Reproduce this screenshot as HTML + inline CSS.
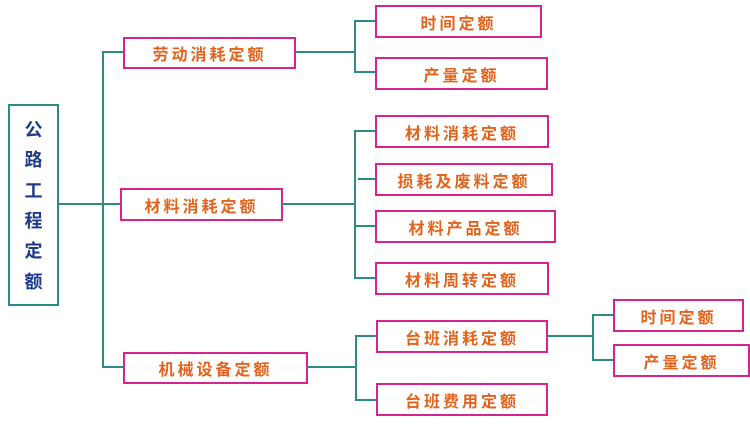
<!DOCTYPE html>
<html><head><meta charset="utf-8"><style>
body{margin:0;width:750px;height:425px;background:#fff;position:relative;overflow:hidden;font-family:"Liberation Sans","Noto Sans CJK SC",sans-serif}
.b{position:absolute;box-sizing:border-box;border:2px solid #d6238f;color:#e2631c;font-weight:bold;font-size:16px;display:flex;align-items:center;justify-content:center;letter-spacing:3px;background:#fff}
.l{position:absolute;background:#2e8b84}
.r{position:absolute;left:8px;top:104px;width:51px;height:202px;box-sizing:border-box;border:2px solid #2e8b84;color:#1d3a8c;font-weight:bold;font-size:18px;display:flex;flex-direction:column;align-items:center;justify-content:space-around;padding:8px 0}
</style></head><body>
<div class="r"><span>公</span><span>路</span><span>工</span><span>程</span><span>定</span><span>额</span></div>
<div class="l" style="left:58px;top:203px;width:63px;height:2px"></div>
<div class="l" style="left:102px;top:51px;width:2px;height:317px"></div>
<div class="l" style="left:102px;top:51px;width:21px;height:2px"></div>
<div class="l" style="left:102px;top:366px;width:21px;height:2px"></div>
<div class="b" style="left:123px;top:37px;width:173px;height:32px">劳动消耗定额</div>
<div class="b" style="left:120px;top:188px;width:163px;height:33px">材料消耗定额</div>
<div class="b" style="left:123px;top:352px;width:185px;height:32px">机械设备定额</div>
<div class="l" style="left:295px;top:51px;width:60px;height:2px"></div>
<div class="l" style="left:354px;top:20px;width:2px;height:53px"></div>
<div class="l" style="left:354px;top:20px;width:21px;height:2px"></div>
<div class="l" style="left:354px;top:71px;width:21px;height:2px"></div>
<div class="b" style="left:375px;top:5px;width:167px;height:33px">时间定额</div>
<div class="b" style="left:375px;top:57px;width:173px;height:33px">产量定额</div>
<div class="l" style="left:282px;top:203px;width:73px;height:2px"></div>
<div class="l" style="left:354px;top:130px;width:2px;height:149px"></div>
<div class="l" style="left:354px;top:130px;width:21px;height:2px"></div>
<div class="l" style="left:358px;top:178px;width:17px;height:2px"></div>
<div class="l" style="left:354px;top:225px;width:21px;height:2px"></div>
<div class="l" style="left:354px;top:277px;width:21px;height:2px"></div>
<div class="b" style="left:375px;top:115px;width:174px;height:33px">材料消耗定额</div>
<div class="b" style="left:375px;top:163px;width:178px;height:33px">损耗及废料定额</div>
<div class="b" style="left:375px;top:210px;width:181px;height:33px">材料产品定额</div>
<div class="b" style="left:375px;top:262px;width:174px;height:33px">材料周转定额</div>
<div class="l" style="left:307px;top:366px;width:50px;height:2px"></div>
<div class="l" style="left:355px;top:335px;width:2px;height:66px"></div>
<div class="l" style="left:355px;top:335px;width:21px;height:2px"></div>
<div class="l" style="left:355px;top:399px;width:21px;height:2px"></div>
<div class="b" style="left:376px;top:320px;width:172px;height:33px">台班消耗定额</div>
<div class="b" style="left:376px;top:383px;width:172px;height:33px">台班费用定额</div>
<div class="l" style="left:547px;top:335px;width:47px;height:2px"></div>
<div class="l" style="left:592px;top:314px;width:2px;height:47px"></div>
<div class="l" style="left:592px;top:314px;width:21px;height:2px"></div>
<div class="l" style="left:592px;top:359px;width:21px;height:2px"></div>
<div class="b" style="left:613px;top:299px;width:131px;height:33px">时间定额</div>
<div class="b" style="left:613px;top:344px;width:137px;height:33px">产量定额</div>
</body></html>
